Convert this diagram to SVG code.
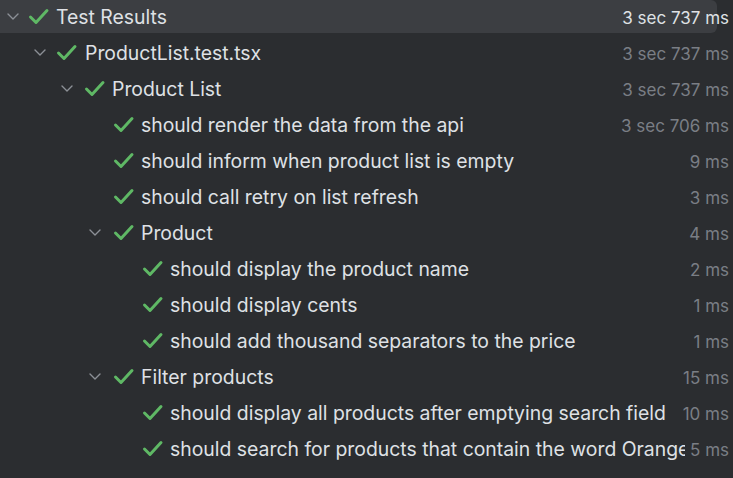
<svg xmlns="http://www.w3.org/2000/svg" width="733" height="478" viewBox="0 0 733 478">
<style>
.t{font-family:Inter,"Noto Sans","Liberation Sans",sans-serif;font-size:19.4px;fill:#dfe1e5}
.d{font-family:Inter,"Noto Sans","Liberation Sans",sans-serif;font-size:17px;fill:#7a7e85;text-anchor:end}
.d0{fill:#dfe1e5}
.ck{fill:none;stroke:#5fb865;stroke-width:3;stroke-linecap:round;stroke-linejoin:round}
.cv{fill:none;stroke:#8c9096;stroke-width:1.4;stroke-linecap:round;stroke-linejoin:round}
</style>
<defs>
<path id="check" class="ck" d="M1.5 8 L7 13.5 L18 1.5"/>
<path id="chev" class="cv" d="M0 0 L5 5 L10 0"/>
<clipPath id="clipLast"><rect x="0" y="430" width="685" height="40"/></clipPath>
</defs>
<rect width="733" height="478" fill="#2b2d30"/>
<rect x="-10" y="0" width="727" height="33" rx="6" fill="#3c3e42"/>

<g id="n0"><use href="#chev" x="8" y="14"/><use href="#check" x="29" y="9"/><text class="t" x="56" y="24">Test Results</text><text class="d d0" x="729" y="24">3 sec 737 ms</text></g>
<g id="n1"><use href="#chev" x="35" y="50"/><use href="#check" x="57" y="45"/><text class="t" x="85" y="60">ProductList.test.tsx</text><text class="d" x="729" y="60">3 sec 737 ms</text></g>
<g id="n2"><use href="#chev" x="62" y="86"/><use href="#check" x="85" y="81"/><text class="t" x="112" y="96">Product List</text><text class="d" x="729" y="96">3 sec 737 ms</text></g>
<g id="n3"><use href="#check" x="114" y="117"/><text class="t" x="141" y="132">should render the data from the api</text><text class="d" x="729" y="132">3 sec 706 ms</text></g>
<g id="n4"><use href="#check" x="114" y="153"/><text class="t" x="141" y="168">should inform when product list is empty</text><text class="d" x="729" y="168">9 ms</text></g>
<g id="n5"><use href="#check" x="114" y="189"/><text class="t" x="141" y="204">should call retry on list refresh</text><text class="d" x="729" y="204">3 ms</text></g>
<g id="n6"><use href="#chev" x="90" y="230"/><use href="#check" x="114" y="225"/><text class="t" x="141" y="240">Product</text><text class="d" x="729" y="240">4 ms</text></g>
<g id="n7"><use href="#check" x="143" y="261"/><text class="t" x="170" y="276">should display the product name</text><text class="d" x="729" y="276">2 ms</text></g>
<g id="n8"><use href="#check" x="143" y="297"/><text class="t" x="170" y="312">should display cents</text><text class="d" x="729" y="312">1 ms</text></g>
<g id="n9"><use href="#check" x="143" y="333"/><text class="t" x="170" y="348">should add thousand separators to the price</text><text class="d" x="729" y="348">1 ms</text></g>
<g id="n10"><use href="#chev" x="90" y="374"/><use href="#check" x="114" y="369"/><text class="t" x="141" y="384">Filter products</text><text class="d" x="729" y="384">15 ms</text></g>
<g id="n11"><use href="#check" x="143" y="405"/><text class="t" x="170" y="420">should display all products after emptying search field</text><text class="d" x="729" y="420">10 ms</text></g>
<g id="n12"><use href="#check" x="143" y="441"/><text class="t" x="170" y="456" clip-path="url(#clipLast)">should search for products that contain the word Orange</text><text class="d" x="729" y="456">5 ms</text></g>
<g id="connectors"></g>
</svg>
